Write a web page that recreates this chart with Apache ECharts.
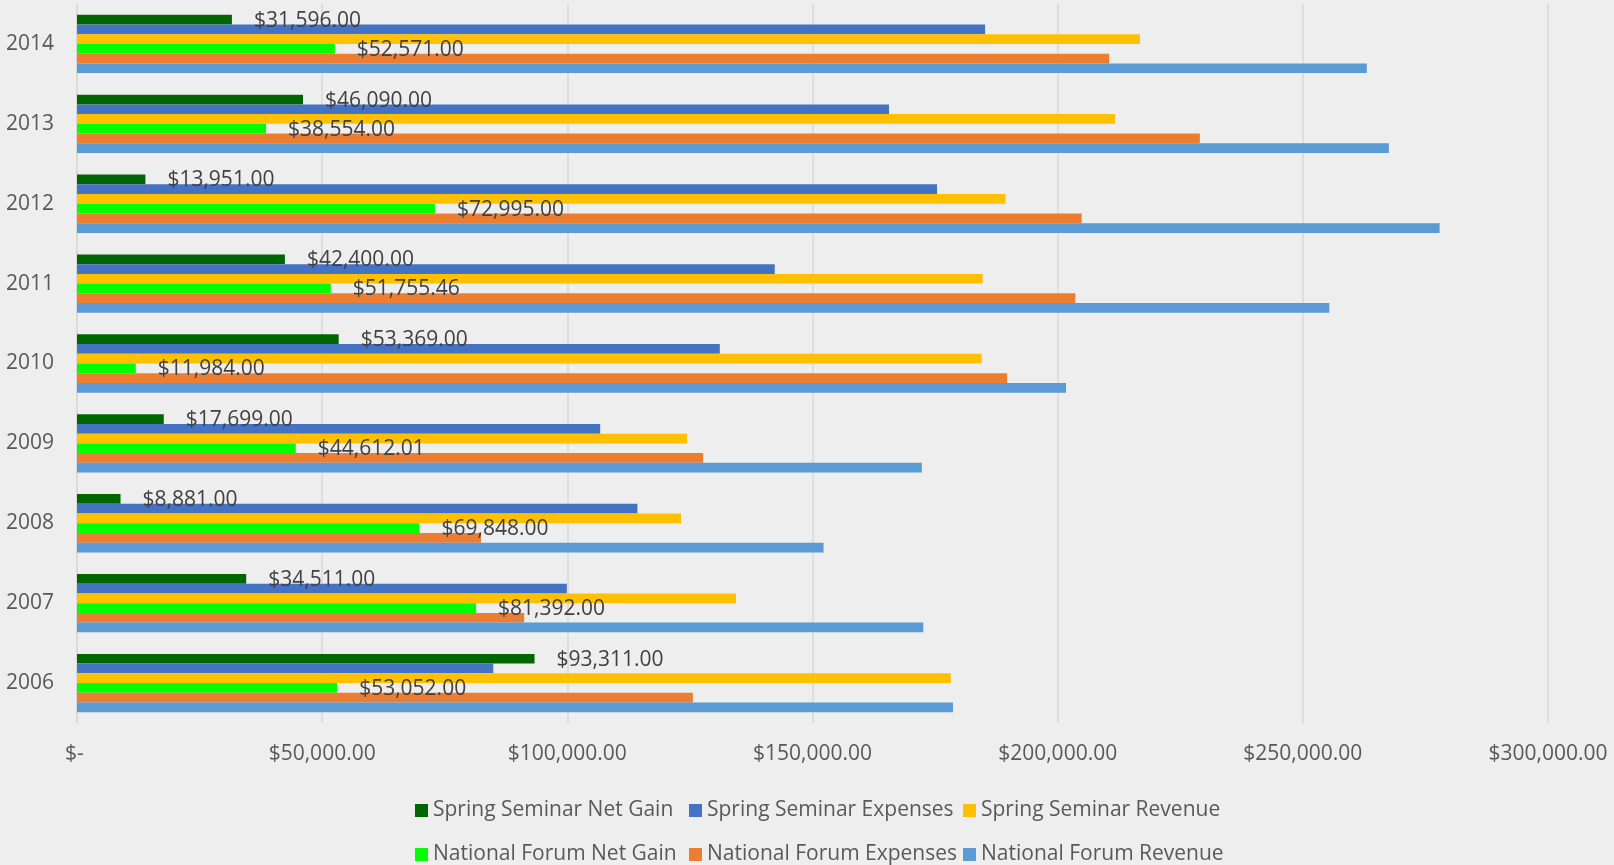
<!DOCTYPE html>
<html>
<head>
<meta charset="utf-8">
<script src="https://cdn.jsdelivr.net/npm/echarts@6/dist/echarts.min.js"></script>
<style>
  html, body { margin: 0; padding: 0; background: #eeeeee; }
  #chart { width: 1614px; height: 865px; }
</style>
</head>
<body>
<div id="chart"></div>
<script>
// years, bottom to top
var years = ['2006', '2007', '2008', '2009', '2010', '2011', '2012', '2013', '2014'];

var springNetGain  = [93311, 34511, 8881, 17699, 53369, 42400, 13951, 46090, 31596];
var springExpenses = [84900, 99900, 114300, 106700, 131100, 142300, 175400, 165600, 185200];
var springRevenue  = [178200, 134400, 123200, 124400, 184500, 184700, 189350, 211700, 216800];
var forumNetGain   = [53052, 81392, 69848, 44612.01, 11984, 51755.46, 72995, 38554, 52571];
var forumExpenses  = [125600, 91200, 82400, 127700, 189700, 203600, 204900, 229000, 210500];
var forumRevenue   = [178650, 172600, 152250, 172300, 201700, 255400, 277900, 267550, 263050];

var seriesNames = [
    'Spring Seminar Net Gain', 'Spring Seminar Expenses', 'Spring Seminar Revenue',
    'National Forum Net Gain', 'National Forum Expenses', 'National Forum Revenue'
];
var seriesData = [springNetGain, springExpenses, springRevenue, forumNetGain, forumExpenses, forumRevenue];
var seriesColors = ['#006600', '#4472C4', '#FFC000', '#00FF00', '#ED7D31', '#5B9BD5'];
var labelled = [true, false, false, true, false, false];

var FONT = '"Open Sans", "Noto Sans", sans-serif';

function money(v) {
    var parts = Number(v).toFixed(2).split('.');
    parts[0] = parts[0].replace(/\B(?=(\d{3})+(?!\d))/g, ',');
    return '$' + parts.join('.');
}

var myChart = echarts.init(document.getElementById('chart'));

var series = [];
for (var i = 0; i < seriesNames.length; i++) {
    series.push({
        name: seriesNames[i],
        type: 'bar',
        data: seriesData[i],
        barGap: 0,
        barCategoryGap: '27%',
        itemStyle: { color: seriesColors[i] },
        label: {
            show: labelled[i],
            position: 'right',
            distance: 22,
            offset: [0, 1],
            color: '#404040',
            fontFamily: FONT,
            fontSize: 21,
            formatter: function (p) { return money(p.value); }
        }
    });
}

// one legend per entry, laid out as a 3 x 2 grid like the original
var legendCols = [410, 684, 958];
var legendRows = [795, 839];
var legends = [];
for (var k = 0; k < seriesNames.length; k++) {
    legends.push({
        data: [seriesNames[k]],
        left: legendCols[k % 3],
        top: legendRows[Math.floor(k / 3)],
        itemWidth: 13, itemHeight: 13,
        icon: 'rect',
        textStyle: { color: '#595959', fontFamily: FONT, fontSize: 21 }
    });
}

var option = {
    backgroundColor: '#eeeeee',
    animation: false,
    grid: { left: 77, right: 66, top: 4, bottom: 142, outerBoundsMode: 'none' },
    legend: legends,
    xAxis: {
        type: 'value',
        min: 0,
        max: 300000,
        interval: 50000,
        axisLine: { show: false },
        axisTick: { show: false },
        splitLine: { show: true, lineStyle: { color: '#d9d9d9', width: 1.5 } },
        axisLabel: {
            color: '#595959',
            fontFamily: FONT,
            fontSize: 21,
            margin: 21,
            formatter: function (v) { return v === 0 ? '$- ' : money(v); }
        }
    },
    yAxis: {
        type: 'category',
        data: years,
        axisLine: { show: true, lineStyle: { color: '#d9d9d9', width: 1.5 } },
        axisTick: { show: false },
        axisLabel: {
            color: '#595959',
            fontFamily: FONT,
            fontSize: 21,
            margin: 23
        }
    },
    series: series
};

myChart.setOption(option);
</script>
</body>
</html>
